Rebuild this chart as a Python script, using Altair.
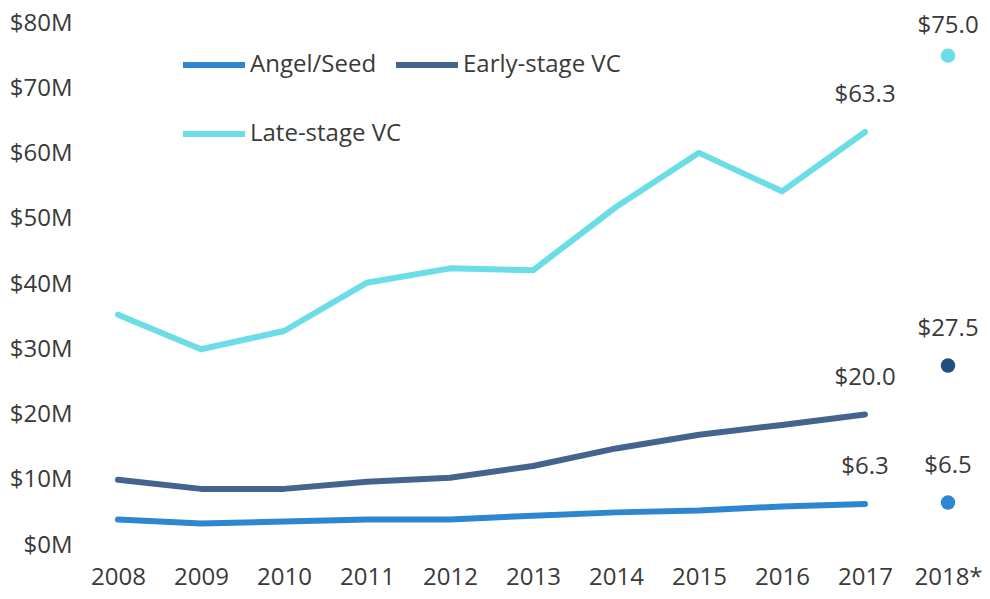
import altair as alt
import pandas as pd

# ---- data ----
years = ["2008", "2009", "2010", "2011", "2012", "2013", "2014", "2015", "2016", "2017"]
series = ["Angel/Seed", "Early-stage VC", "Late-stage VC"]
angel_seed = [3.9, 3.3, 3.6, 3.9, 3.9, 4.5, 5.0, 5.3, 5.9, 6.3]
early_stage = [10.0, 8.6, 8.6, 9.7, 10.3, 12.1, 14.8, 16.9, 18.4, 20.0]
late_stage = [35.3, 30.0, 32.8, 40.2, 42.4, 42.1, 51.8, 60.1, 54.2, 63.3]
line_colors = ["#2E86D1", "#44648E", "#6BDDE6"]

est_year = "2018*"
est_values = [6.5, 27.5, 75.0]
est_colors = ["#2B87D3", "#1F4E7F", "#6BDDE6"]

x_labels = years + [est_year]
y_ticks = [0, 10, 20, 30, 40, 50, 60, 70, 80]

FONT = "Open Sans"
TXT = "#3A3A3A"
FS = 24

rows = []
for name, vals in zip(series, [angel_seed, early_stage, late_stage]):
    for y, v in zip(years, vals):
        rows.append({"series": name, "year": y, "value": v})
lines_df = pd.DataFrame(rows)

pts_df = pd.DataFrame({
    "series": series,
    "year": [est_year] * len(series),
    "value": est_values,
    "color": est_colors,
})

x_enc = alt.X(
    "year:N",
    sort=x_labels,
    scale=alt.Scale(type="point", domain=x_labels, padding=0.4217, align=0.543),
    axis=alt.Axis(title=None, labelAngle=0, labelFont=FONT, labelFontSize=FS,
                  labelColor=TXT, labelPadding=20, ticks=False, domain=False, grid=False),
)
y_enc = alt.Y(
    "value:Q",
    scale=alt.Scale(domain=[0, 80], nice=False),
    axis=alt.Axis(title=None, values=y_ticks, labelExpr="'$' + datum.value + 'M'",
                  labelFont=FONT, labelFontSize=FS, labelColor=TXT, labelPadding=8,
                  ticks=False, domain=False, grid=False),
)

lines = alt.Chart(lines_df).mark_line(strokeWidth=6, strokeCap="round", strokeJoin="round").encode(
    x=x_enc,
    y=y_enc,
    color=alt.Color(
        "series:N",
        scale=alt.Scale(domain=series, range=line_colors),
        legend=alt.Legend(
            title=None, orient="none", legendX=100, legendY=8, direction="horizontal",
            columns=2, gridAlign="none", symbolType="stroke", symbolSize=3844,
            symbolStrokeWidth=6, labelFont=FONT, labelFontSize=FS, labelColor=TXT,
            labelOffset=2, columnPadding=-18, rowPadding=23, labelLimit=400,
        ),
    ),
    detail="series:N",
)

last_labels = alt.Chart(lines_df).transform_filter(
    alt.datum.year == years[-1]
).transform_calculate(
    label="'$' + format(datum.value, '.1f')"
).mark_text(dy=-37, font=FONT, fontSize=FS, color=TXT).encode(
    x=alt.X("year:N", sort=x_labels), y="value:Q", text="label:N"
)

points = alt.Chart(pts_df).mark_circle(size=210, opacity=1).encode(
    x=alt.X("year:N", sort=x_labels), y="value:Q", color=alt.Color("color:N", scale=None)
)

est_labels_low = alt.Chart(pts_df).transform_filter(
    alt.datum.value < 70
).transform_calculate(
    label="'$' + format(datum.value, '.1f')"
).mark_text(dy=-37, font=FONT, fontSize=FS, color=TXT).encode(
    x=alt.X("year:N", sort=x_labels), y="value:Q", text="label:N"
)
est_labels_top = alt.Chart(pts_df).transform_filter(
    alt.datum.value >= 70
).transform_calculate(
    label="'$' + format(datum.value, '.1f')"
).mark_text(dy=-30, font=FONT, fontSize=FS, color=TXT).encode(
    x=alt.X("year:N", sort=x_labels), y="value:Q", text="label:N"
)

chart = alt.layer(lines, last_labels, points, est_labels_low, est_labels_top).properties(
    width=900, height=522,
    autosize=alt.AutoSizeParams(type="none"),
    padding={"left": 72, "top": 15, "right": 2, "bottom": 46},
).configure(
    background="white", view=alt.ViewConfig(stroke=None)
)

chart.save("out.html", embed_options={"renderer": "svg", "actions": False})
